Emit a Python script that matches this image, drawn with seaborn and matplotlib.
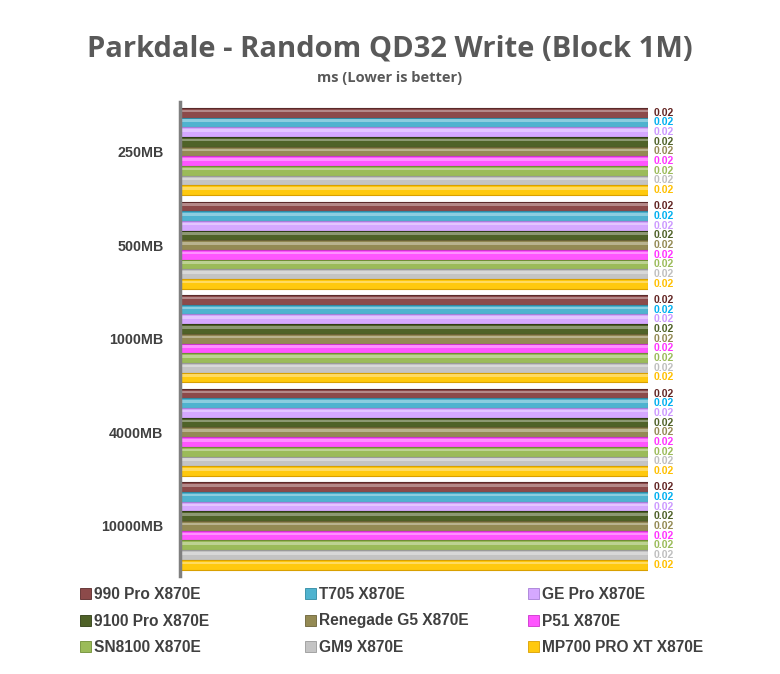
import matplotlib.pyplot as plt
import matplotlib.patches as mpatches
import pandas as pd
import seaborn as sns

sizes = ["250MB", "500MB", "1000MB", "4000MB", "10000MB"]
drives = ["990 Pro X870E", "T705 X870E", "GE Pro X870E",
          "9100 Pro X870E", "Renegade G5 X870E", "P51 X870E",
          "SN8100 X870E", "GM9 X870E", "MP700 PRO XT X870E"]
# ms per size, one list per drive (all read as 0.02 from the chart)
ms_990 = [0.02, 0.02, 0.02, 0.02, 0.02]
ms_t705 = [0.02, 0.02, 0.02, 0.02, 0.02]
ms_gepro = [0.02, 0.02, 0.02, 0.02, 0.02]
ms_9100 = [0.02, 0.02, 0.02, 0.02, 0.02]
ms_renegade = [0.02, 0.02, 0.02, 0.02, 0.02]
ms_p51 = [0.02, 0.02, 0.02, 0.02, 0.02]
ms_sn8100 = [0.02, 0.02, 0.02, 0.02, 0.02]
ms_gm9 = [0.02, 0.02, 0.02, 0.02, 0.02]
ms_mp700 = [0.02, 0.02, 0.02, 0.02, 0.02]

bar_colors = ["#8c4a4a", "#4fb3cf", "#d5a8ff", "#4f6228", "#948a54",
              "#ff55ff", "#9bbb59", "#c4c4c4", "#ffc90e"]
label_colors = ["#632523", "#00b0f0", "#cc99ff", "#4f6228", "#948a54",
                "#ff33ff", "#9bbb59", "#bfbfbf", "#ffc000"]
edge_colors = ["#5a2a2a", "#2f8aa3", "#a77fd6", "#2f3d15", "#6b6238",
               "#cc33cc", "#6f8f35", "#9a9a9a", "#d9a000"]

all_ms = [ms_990, ms_t705, ms_gepro, ms_9100, ms_renegade,
          ms_p51, ms_sn8100, ms_gm9, ms_mp700]
rows = []
for d, vals in zip(drives, all_ms):
    for s, v in zip(sizes, vals):
        rows.append({"size": s, "drive": d, "ms": v})
df = pd.DataFrame(rows)

sns.set_theme(style="white")
plt.rcParams["font.family"] = ["Liberation Sans", "DejaVu Sans"]

fig = plt.figure(figsize=(7.8, 6.74), dpi=100)
ax = fig.add_axes([0.231, 0.146, 0.6, 0.703])

sns.barplot(data=df, y="size", x="ms", hue="drive", order=sizes,
            hue_order=drives, palette=bar_colors, orient="h",
            width=0.93, legend=False, ax=ax, saturation=1)

for i, cont in enumerate(ax.containers):
    for p in cont:
        p.set_edgecolor(edge_colors[i])
        p.set_linewidth(0.8)
        x, y = p.get_xy()
        w, h = p.get_width(), p.get_height()
        ax.add_patch(mpatches.Rectangle((x, y + h * 0.2), w, h * 0.25,
                                        facecolor="white", alpha=0.35,
                                        edgecolor="none"))
    ax.bar_label(cont, fmt="%.2f", padding=4, color=label_colors[i],
                 fontsize=7.5, fontweight="bold")

ax.set_xlim(0, 0.02)
ax.set_ylim(4.53, -0.53)
ax.set_xlabel("")
ax.set_ylabel("")
ax.set_xticks([])
ax.tick_params(axis="y", length=0, pad=12)
for t in ax.get_yticklabels():
    t.set_fontweight("bold")
    t.set_fontsize(10.3)
    t.set_color("#404040")
for side in ["top", "right", "bottom"]:
    ax.spines[side].set_visible(False)
ax.spines["left"].set_color("#7f7f7f")
ax.spines["left"].set_linewidth(2.5)

fig.text(0.5, 0.928, "Parkdale - Random QD32 Write (Block 1M)",
         ha="center", va="center", fontsize=21, fontweight="bold",
         color="#595959", family=["Open Sans", "DejaVu Sans"])
fig.text(0.5, 0.884, "ms (Lower is better)", ha="center", va="center",
         fontsize=10.5, fontweight="bold", color="#595959",
         family=["Open Sans", "DejaVu Sans"])

# legend: three evenly spaced columns, filled row by row
col_x = [80 / 780, 305 / 780, 528 / 780]
for c in range(3):
    idx = [c, c + 3, c + 6]
    hs = [mpatches.Patch(facecolor=bar_colors[k], edgecolor=edge_colors[k],
                         linewidth=0.6) for k in idx]
    leg = fig.legend(hs, [drives[k] for k in idx], loc="center left",
                     bbox_to_anchor=(col_x[c], 1 - 621 / 674),
                     frameon=False, borderpad=0, borderaxespad=0,
                     handlelength=0.7, handleheight=0.7, handletextpad=0.2,
                     labelspacing=0.75,
                     prop={"weight": "bold", "size": 11.2})
    for t in leg.get_texts():
        t.set_color("#404040")

fig.savefig("out.png", dpi=100)
